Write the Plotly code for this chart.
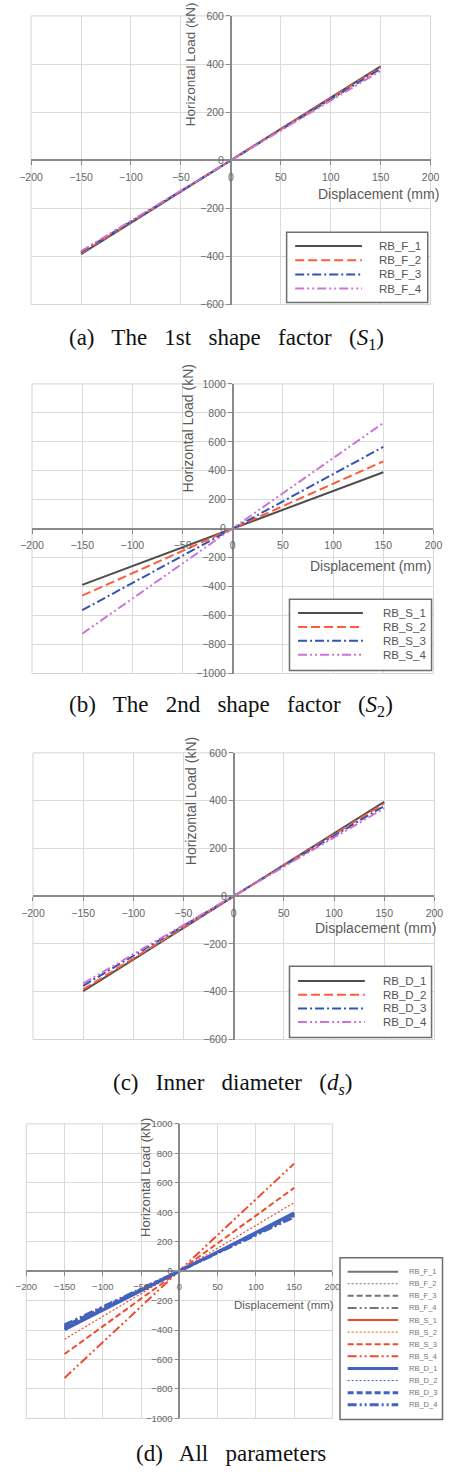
import plotly.graph_objects as go

# ---------------- data ----------------
displacement = [-150, 0, 150]

f_names = ["RB_F_1", "RB_F_2", "RB_F_3", "RB_F_4"]
f_loads = [
    [-390, 0, 390],
    [-386, 0, 386],
    [-382, 0, 380],
    [-378, 0, 372],
]

s_names = ["RB_S_1", "RB_S_2", "RB_S_3", "RB_S_4"]
s_loads = [
    [-388, 0, 390],
    [-462, 0, 465],
    [-563, 0, 565],
    [-725, 0, 730],
]

d_names = ["RB_D_1", "RB_D_2", "RB_D_3", "RB_D_4"]
d_loads = [
    [-397, 0, 395],
    [-390, 0, 388],
    [-375, 0, 378],
    [-365, 0, 368],
]

x_ticks = [-200, -150, -100, -50, 0, 50, 100, 150, 200]
y_ticks_600 = [-600, -400, -200, 0, 200, 400, 600]
y_ticks_1000 = [-1000, -800, -600, -400, -200, 0, 200, 400, 600, 800, 1000]

SP = "\u00a0\u00a0 "
captions = [
    f"(a){SP}The{SP}1st{SP}shape{SP}factor{SP}(<i>S</i><sub>1</sub>)",
    f"(b){SP}The{SP}2nd{SP}shape{SP}factor{SP}(<i>S</i><sub>2</sub>)",
    f"(c){SP}Inner{SP}diameter{SP}(<i>d<sub>s</sub></i>)",
    f"(d){SP}All{SP}parameters",
]

# ---------------- styles ----------------
W, H = 452, 1476
SANS = "Liberation Sans, Arial, sans-serif"
SERIF = "Liberation Serif, Times New Roman, serif"

DASH1 = "solid"
DASH2 = "9px,4px"
DASH3 = "9px,3px,2px,3px"
DASH4 = "9px,3px,2px,3px,2px,3px"
DOT = "2px,2px"

single_colors = ["#4d4d4d", "#ff5c3c", "#3553b0", "#cc74d4"]
single_dashes = [DASH1, DASH2, DASH3, DASH4]
single_widths = [2, 2, 2, 2]

grp_colors = {"F": "#737373", "S": "#f04a2e", "D": "#4262c0"}
all_dashes = ["solid", DOT, "6px,3px", DASH4]

# panel geometry in pixels: (left, right, top, bottom)
panel_px = [(20, 439, 10, 301), (21, 442, 381, 673), (22, 443, 753, 1042), (15, 336, 1127, 1424)]
panel_ymax = [600, 1000, 600, 1000]
panel_yticks = [y_ticks_600, y_ticks_1000, y_ticks_600, y_ticks_1000]


def px(x):
    return x / W


def py(y):
    return 1 - y / H


fig = go.Figure()

# ---------------- traces ----------------
groups = [(f_names, f_loads), (s_names, s_loads), (d_names, d_loads)]
for p, (names, loads) in enumerate(groups):
    ax = "" if p == 0 else str(p + 1)
    for j in range(4):
        fig.add_trace(go.Scatter(
            x=displacement, y=loads[j], mode="lines", name=names[j],
            line=dict(color=single_colors[j], dash=single_dashes[j], width=single_widths[j]),
            xaxis="x" + ax, yaxis="y" + ax, showlegend=False, hoverinfo="skip"))

# panel (d): all parameters
for g, (names, loads) in zip(["F", "S", "D"], groups):
    for j in range(4):
        w = 3 if (g == "D" and j != 1) else (1.2 if j == 1 else 2)
        fig.add_trace(go.Scatter(
            x=displacement, y=loads[j], mode="lines", name=names[j],
            line=dict(color=grp_colors[g], dash=all_dashes[j], width=w),
            xaxis="x4", yaxis="y4", showlegend=False, hoverinfo="skip"))

# ---------------- axes ----------------
layout = dict(
    width=W, height=H, margin=dict(l=0, r=0, t=0, b=0),
    paper_bgcolor="white", plot_bgcolor="white", showlegend=False,
    font=dict(family=SANS, color="#555555"),
)
for i, (l, r, t, b) in enumerate(panel_px):
    ax = "" if i == 0 else str(i + 1)
    small = i == 3
    tf = 9.5 if small else 10.5
    xd = [px(l), px(r)]
    yd = [py(b), py(t)]
    layout["xaxis" + ax] = dict(
        domain=xd, range=[-200, 200], tickvals=x_ticks, anchor="free",
        position=(yd[0] + yd[1]) / 2, showgrid=True, gridcolor="#dadada", gridwidth=1,
        zeroline=False, showline=True, linecolor="#8a8a8a", linewidth=1.6,
        ticks="outside", ticklen=4, tickcolor="#8a8a8a", tickwidth=1,
        tickfont=dict(size=tf, color="#666666", family=SANS), ticklabelstandoff=3,
        fixedrange=True,
    )
    layout["yaxis" + ax] = dict(
        domain=yd, range=[-panel_ymax[i], panel_ymax[i]], tickvals=panel_yticks[i],
        anchor="free", position=(xd[0] + xd[1]) / 2, showgrid=True, gridcolor="#dadada",
        gridwidth=1, zeroline=False, showline=True, linecolor="#8a8a8a", linewidth=1.6,
        ticks="outside", ticklen=4, tickcolor="#8a8a8a", tickwidth=1,
        tickfont=dict(size=tf, color="#666666", family=SANS), fixedrange=True,
    )
fig.update_layout(**layout)

shapes = []
annotations = []

# plot-area borders
for i in range(4):
    ax = "" if i == 0 else str(i + 1)
    shapes.append(dict(type="rect", xref="x" + ax + " domain", yref="y" + ax + " domain",
                       x0=0, x1=1, y0=0, y1=1, line=dict(color="#d4d4d4", width=1),
                       layer="below"))

# axis titles (text)
ytitle_pos = [(187, 123, 13.5), (185, 492, 14), (188, 868, 14), (140, 1243, 13)]
xtitle_pos = [(450, 190, 14), (442, 565, 14), (447, 930, 14), (340, 1310, 11.5)]
for (x, y, s) in ytitle_pos:
    annotations.append(dict(text="Horizontal Load (kN)", textangle=-90, xref="paper", yref="paper",
                            x=px(x), y=py(y), xanchor="center", yanchor="bottom", showarrow=False,
                            font=dict(size=s, color="#5a5a5a", family=SANS)))
for (x, y, s) in xtitle_pos:
    annotations.append(dict(text="Displacement (mm)", xref="paper", yref="paper",
                            x=px(x), y=py(y), xanchor="right", yanchor="middle", showarrow=False,
                            font=dict(size=s, color="#5a5a5a", family=SANS)))

# captions
cap_pos = [(225, 336), (230, 706), (231, 1087), (230, 1459)]
for txt, (x, y) in zip(captions, cap_pos):
    annotations.append(dict(text=txt, xref="paper", yref="paper", x=px(x), y=py(y),
                            xanchor="center", yanchor="middle", showarrow=False,
                            font=dict(size=23, color="#111111", family=SERIF)))

# legends (boxes drawn manually to match the compact original spacing)
legend_specs = [
    # box(l, r, t, b), first row y, row step, sample x0, x1, text x, font
    ((288, 436, 228, 299), 242, 14.3, 297, 367, 383, 11.5),
    ((291, 440, 598, 670), 612, 14.0, 300, 368, 387, 11.5),
    ((291, 440, 968, 1040), 983, 13.8, 300, 370, 387, 11.5),
]
for p, (spec, (names, _)) in enumerate(zip(legend_specs, groups)):
    (l, r, t, b), r0, step, sx0, sx1, tx, fs = spec
    shapes.append(dict(type="rect", xref="paper", yref="paper", x0=px(l), x1=px(r),
                       y0=py(b), y1=py(t), line=dict(color="#6e6e6e", width=1.5),
                       fillcolor="white", layer="above"))
    for j in range(4):
        yy = py(r0 + j * step)
        shapes.append(dict(type="line", xref="paper", yref="paper", x0=px(sx0), x1=px(sx1),
                           y0=yy, y1=yy, layer="above",
                           line=dict(color=single_colors[j], dash=single_dashes[j], width=2)))
        annotations.append(dict(text=names[j], xref="paper", yref="paper", x=px(tx), y=yy,
                                xanchor="left", yanchor="middle", showarrow=False,
                                font=dict(size=fs, color="#555555", family=SANS)))

# legend (d)
shapes.append(dict(type="rect", xref="paper", yref="paper", x0=px(344), x1=px(451.5),
                   y0=py(1425), y1=py(1262), line=dict(color="#6e6e6e", width=1.5),
                   fillcolor="white", layer="above"))
k = 0
for g, (names, _) in zip(["F", "S", "D"], groups):
    for j in range(4):
        yy = py(1276 + k * 12.2)
        w = 3 if (g == "D" and j != 1) else (1 if j == 1 else 2)
        shapes.append(dict(type="line", xref="paper", yref="paper", x0=px(352), x1=px(405),
                           y0=yy, y1=yy, layer="above",
                           line=dict(color=grp_colors[g], dash=all_dashes[j], width=w)))
        annotations.append(dict(text=names[j], xref="paper", yref="paper", x=px(414), y=yy,
                                xanchor="left", yanchor="middle", showarrow=False,
                                font=dict(size=7.5, color="#777777", family=SANS)))
        k += 1

fig.update_layout(shapes=shapes, annotations=annotations)
fig.write_html("out.html")
